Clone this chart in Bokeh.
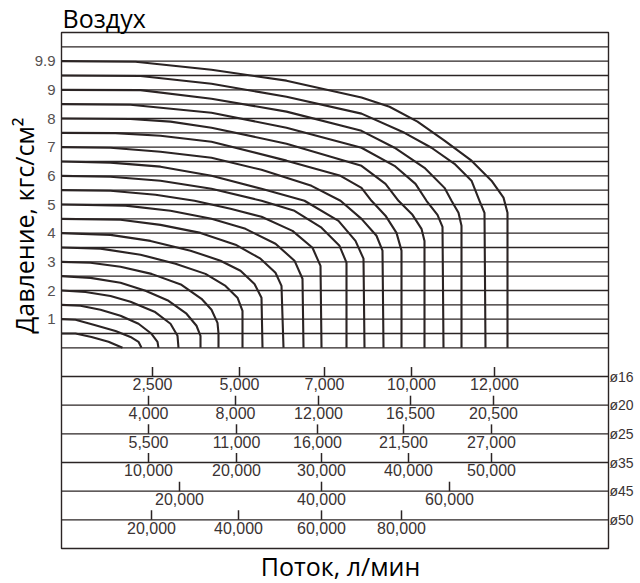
from bokeh.plotting import figure
from bokeh.models import Range1d
from bokeh.embed import file_html
from bokeh.resources import INLINE
from bokeh.core.properties import value
import math

# ---------------- data ----------------
# horizontal pressure lines (upper chart) and pipe-scale lines (lower nomogram)
pressure_lines = [0, 0.5, 1, 1.5, 2, 2.5, 3, 3.5, 4, 4.5, 5, 5.5, 6, 6.5, 7, 7.5,
                  8, 8.5, 9, 9.5, 10, 10.5]
pipe_levels = [-1, -2, -3, -4, -5, -6]
pipe_names = ["ø16", "ø20", "ø25", "ø35", "ø45", "ø50"]
y_ticks = [1, 2, 3, 4, 5, 6, 7, 8, 9, 10]
y_tick_text = ["1", "2", "3", "4", "5", "6", "7", "8", "9", "9.9"]

# flow curves: x = position on the flow scale, y = pressure (kgf/cm2)
c05_x = [0, 14, 30, 47, 61]
c05_y = [0.5, 0.5, 0.38, 0.21, 0]
c10_x = [0, 14, 33, 54, 69, 77, 80]
c10_y = [1, 0.98, 0.80, 0.59, 0.38, 0.21, 0]
c15_x = [0, 19, 39, 59, 77, 90, 96, 97]
c15_y = [1.5, 1.47, 1.33, 1.12, 0.84, 0.49, 0.21, 0]
c20_x = [0, 24, 49, 69, 93, 109, 116, 117]
c20_y = [2, 1.95, 1.81, 1.61, 1.26, 0.84, 0.42, 0]
c25_x = [0, 29, 59, 84, 107, 125, 135, 139, 139]
c25_y = [2.5, 2.44, 2.27, 1.99, 1.64, 1.19, 0.77, 0.42, 0]
c30_x = [0, 29, 59, 90, 120, 140, 150, 156, 157, 157]
c30_y = [3, 2.97, 2.83, 2.58, 2.20, 1.71, 1.33, 0.87, 0.50, 0]
c35_x = [0, 39, 79, 114, 144, 164, 176, 181, 181]
c35_y = [3.5, 3.46, 3.25, 2.93, 2.58, 2.16, 1.75, 1.29, 0]
c40_x = [0, 49, 89, 129, 159, 179, 193, 200, 201]
c40_y = [4, 3.94, 3.73, 3.39, 3.04, 2.69, 2.23, 1.75, 0]
c45_x = [0, 59, 99, 139, 174, 199, 214, 220, 222]
c45_y = [4.5, 4.47, 4.29, 4.01, 3.60, 3.11, 2.62, 2.16, 0]
c50_x = [0, 64, 109, 150, 184, 214, 233, 241, 242]
c50_y = [5, 4.96, 4.78, 4.50, 4.15, 3.63, 3.04, 2.41, 0]
c55_x = [0, 49, 94, 133, 169, 200, 231, 251, 259, 260]
c55_y = [5.5, 5.48, 5.34, 5.13, 4.85, 4.57, 4.08, 3.49, 2.86, 0]
c60_x = [0, 49, 99, 150, 200, 233, 260, 278, 285, 285]
c60_y = [6, 5.97, 5.83, 5.55, 5.13, 4.78, 4.19, 3.56, 2.97, 0]
c65_x = [0, 49, 99, 150, 200, 243, 277, 294, 302, 303]
c65_y = [6.5, 6.46, 6.32, 6.00, 5.55, 5.13, 4.43, 3.73, 3.11, 0]
c70_x = [0, 49, 99, 150, 200, 250, 279, 300, 315, 321, 322]
c70_y = [7, 6.98, 6.84, 6.63, 6.21, 5.65, 5.13, 4.50, 3.91, 3.39, 0]
c75_x = [0, 54, 99, 150, 225, 279, 300, 310, 324, 335, 340, 340]
c75_y = [7.5, 7.49, 7.40, 7.19, 6.53, 6.00, 5.58, 5.13, 4.61, 4.01, 3.39, 0]
c80_x = [0, 69, 109, 150, 225, 300, 324, 337, 351, 360, 363, 363]
c80_y = [8, 7.98, 7.89, 7.68, 7.12, 6.35, 5.72, 5.13, 4.64, 4.15, 3.73, 0]
c85_x = [0, 69, 150, 225, 300, 333, 354, 365, 376, 381, 382]
c85_y = [8.5, 8.48, 8.20, 7.68, 6.98, 6.35, 5.72, 5.13, 4.64, 4.22, 0]
c90_x = [0, 79, 150, 225, 300, 333, 363, 383, 390, 397, 400, 400]
c90_y = [9, 8.99, 8.69, 8.24, 7.57, 6.98, 6.28, 5.58, 5.13, 4.71, 4.26, 0]
c95_x = [0, 79, 150, 225, 300, 343, 370, 393, 410, 418, 423, 424]
c95_y = [9.5, 9.48, 9.21, 8.76, 8.17, 7.50, 6.98, 6.42, 5.83, 5.13, 4.71, 0]
c99_x = [0, 74, 150, 225, 300, 328, 356, 383, 410, 430, 442, 446, 446]
c99_y = [10, 9.98, 9.70, 9.32, 8.73, 8.41, 7.89, 7.23, 6.53, 5.83, 5.24, 4.71, 0]

# flow scales for each hose diameter (tick position on flow axis, label)
d16_pos = [91, 178, 263, 350, 433]
d16_lab = ["2,500", "5,000", "7,000", "10,000", "12,000"]
d20_pos = [87, 174, 257, 349, 432]
d20_lab = ["4,000", "8,000", "12,000", "16,500", "20,500"]
d25_pos = [87, 175, 256, 342, 430]
d25_lab = ["5,500", "11,000", "16,000", "21,500", "27,000"]
d35_pos = [87, 175, 260, 347, 430]
d35_lab = ["10,000", "20,000", "30,000", "40,000", "50,000"]
d45_pos = [118, 260, 388]
d45_lab = ["20,000", "40,000", "60,000"]
d50_pos = [90, 177, 260, 340]
d50_lab = ["20,000", "40,000", "60,000", "80,000"]

# ---------------- figure ----------------
INK = "#2b2424"
GREY = "#3a3333"
FX0, FX1 = 0, 547          # chart frame (flow scale)
FY0, FY1 = -7, 11          # chart frame (pressure / nomogram rows)
PX_PER_Y = 516 / 18.0
W, H = 640, 583
LEFT, TOP = 61, 32         # frame offset inside the canvas

p = figure(width=W, height=H, output_backend="svg", toolbar_location=None,
           x_range=Range1d(-LEFT, W - LEFT),
           y_range=Range1d(FY1 - (H - TOP) / PX_PER_Y, FY1 + TOP / PX_PER_Y),
           min_border=0, title=None)
p.background_fill_color = "white"
p.border_fill_color = "white"
p.outline_line_color = None
p.axis.visible = False
p.grid.visible = False

# chart frame
p.quad(left=[FX0], right=[FX1], bottom=[FY0], top=[FY1], fill_color=None,
       line_color=INK, line_width=1.4)

# horizontal lines
levels = pressure_lines + pipe_levels
p.segment(x0=[FX0] * len(levels), x1=[FX1] * len(levels), y0=levels, y1=levels,
          line_color=INK, line_width=1.4)

# y tick labels
p.text(x=[-6] * len(y_ticks), y=y_ticks, text=y_tick_text, text_align="right",
       text_baseline="middle", text_font=value("Liberation Sans"),
       text_font_size="15px", text_color="#555050")

# curves
curves_x = [c05_x, c10_x, c15_x, c20_x, c25_x, c30_x, c35_x, c40_x, c45_x, c50_x,
            c55_x, c60_x, c65_x, c70_x, c75_x, c80_x, c85_x, c90_x, c95_x, c99_x]
curves_y = [c05_y, c10_y, c15_y, c20_y, c25_y, c30_y, c35_y, c40_y, c45_y, c50_y,
            c55_y, c60_y, c65_y, c70_y, c75_y, c80_y, c85_y, c90_y, c95_y, c99_y]
p.multi_line(xs=curves_x, ys=curves_y, line_color=INK, line_width=2.1,
             line_join="round")

# lower nomogram scales
scales = [(d16_pos, d16_lab), (d20_pos, d20_lab), (d25_pos, d25_lab),
          (d35_pos, d35_lab), (d45_pos, d45_lab), (d50_pos, d50_lab)]
tick_h = 0.33
lab_drop = 7.7 / PX_PER_Y
tx, ty0, ty1, lx, ly, lt = [], [], [], [], [], []
for lev, (pos, lab) in zip(pipe_levels, scales):
    for xpos, txt in zip(pos, lab):
        tx.append(xpos)
        ty0.append(lev); ty1.append(lev + tick_h)
        lx.append(xpos); ly.append(lev - lab_drop); lt.append(txt)
p.segment(x0=tx, y0=ty0, x1=tx, y1=ty1, line_color=INK, line_width=1.5)
p.text(x=lx, y=ly, text=lt, text_align="center", text_baseline="middle",
       text_font=value("Liberation Sans"), text_font_size="16px",
       text_color=GREY)

# diameter names at right of frame
p.text(x=[FX1 + 1] * len(pipe_levels), y=pipe_levels, text=pipe_names,
       text_align="left", text_baseline="middle",
       text_font=value("Liberation Sans"), text_font_size="14px", text_color=GREY)

# titles
p.text(x=[1], y=[FY1 + 15 / PX_PER_Y], text=["Воздух"], text_font=value("Open Sans"),
       text_font_size="25px", text_color="black", text_baseline="middle",
       text_align="left")
p.text(x=[279], y=[FY0 - 17 / PX_PER_Y], text=["Поток, л/мин"],
       text_font=value("Open Sans"), text_font_size="25px", text_color="black",
       text_baseline="middle", text_align="center")
p.text(x=[-37.5], y=[4.26], text=["Давление, кгс/см²"], text_font=value("Open Sans"),
       text_font_size="25px", text_color="black", angle=math.pi / 2,
       text_baseline="middle", text_align="center")

open("out.html", "w").write(file_html(p, INLINE))
